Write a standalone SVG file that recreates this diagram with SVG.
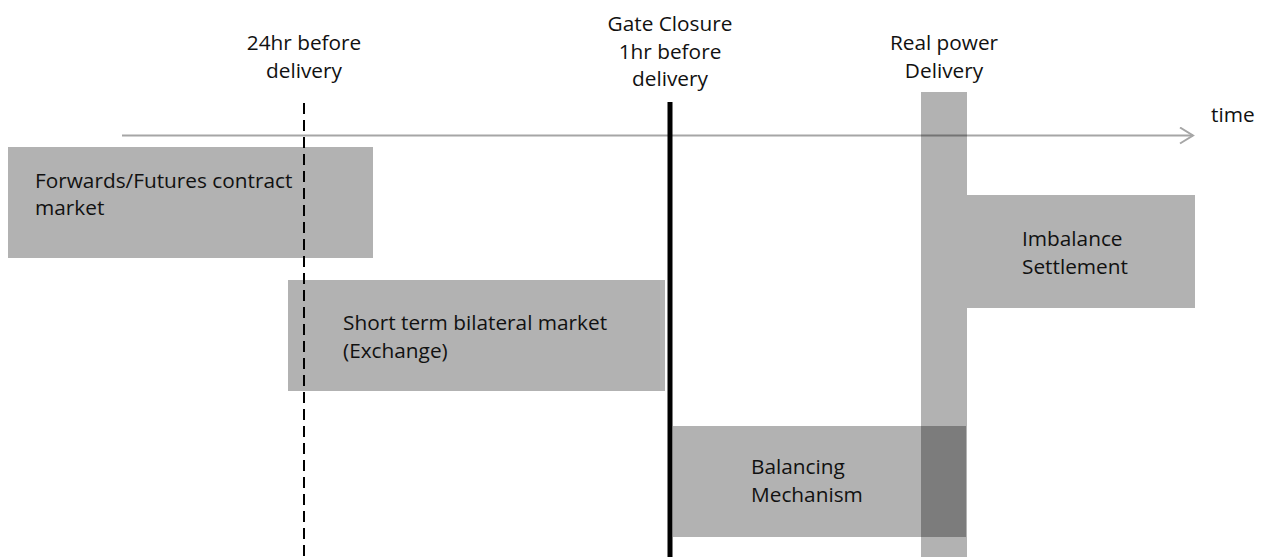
<svg xmlns="http://www.w3.org/2000/svg" width="1261" height="557" viewBox="0 0 1261 557">
<style>
.box{fill:#000;fill-opacity:0.3}
.t{font-family:"Open Sans","Liberation Sans",sans-serif;font-size:20.8px;fill:#111}
.c{text-anchor:middle}
</style>
<defs>
<marker id="chev" markerWidth="16" markerHeight="18" refX="14" refY="9" orient="auto" markerUnits="userSpaceOnUse">
<path d="M1,1 L14,9 L1,17" fill="none" stroke="#a6a6a6" stroke-width="2"/>
</marker>
</defs>
<rect width="1261" height="557" fill="#fff"/>
<g id="forwards">
<rect class="box" x="8" y="147" width="365" height="111"/>
<text class="t" x="35" y="188">Forwards/Futures contract</text>
<text class="t" x="35" y="215">market</text>
</g>
<g id="shortterm">
<rect class="box" x="288" y="280" width="377" height="111"/>
<text class="t" x="343" y="330">Short term bilateral market</text>
<text class="t" x="343" y="358">(Exchange)</text>
</g>
<g id="balancing">
<rect class="box" x="673" y="426" width="293" height="111"/>
<text class="t" x="751" y="474">Balancing</text>
<text class="t" x="751" y="502">Mechanism</text>
</g>
<g id="imbalance">
<rect class="box" x="967" y="195" width="228" height="113"/>
<text class="t" x="1022" y="246">Imbalance</text>
<text class="t" x="1022" y="274">Settlement</text>
</g>
<g id="labels">
<text class="t c" x="304" y="50">24hr before</text>
<text class="t c" x="304" y="78">delivery</text>
<text class="t c" x="670" y="31">Gate Closure</text>
<text class="t c" x="670" y="59">1hr before</text>
<text class="t c" x="670" y="86">delivery</text>
<text class="t c" x="944" y="50">Real power</text>
<text class="t c" x="944" y="78">Delivery</text>
<text class="t" x="1211" y="122">time</text>
</g>
<g id="connectors">
<line x1="122" y1="135.5" x2="1193" y2="135.5" stroke="#a6a6a6" stroke-width="2" marker-end="url(#chev)"/>
<line x1="304" y1="103" x2="304" y2="557" stroke="#000" stroke-width="2" stroke-dasharray="11,6"/>
<line x1="670" y1="102" x2="670" y2="557" stroke="#000" stroke-width="5"/>
</g>
<g id="delivery">
<rect class="box" x="921" y="92" width="46" height="465"/>
</g>
</svg>
